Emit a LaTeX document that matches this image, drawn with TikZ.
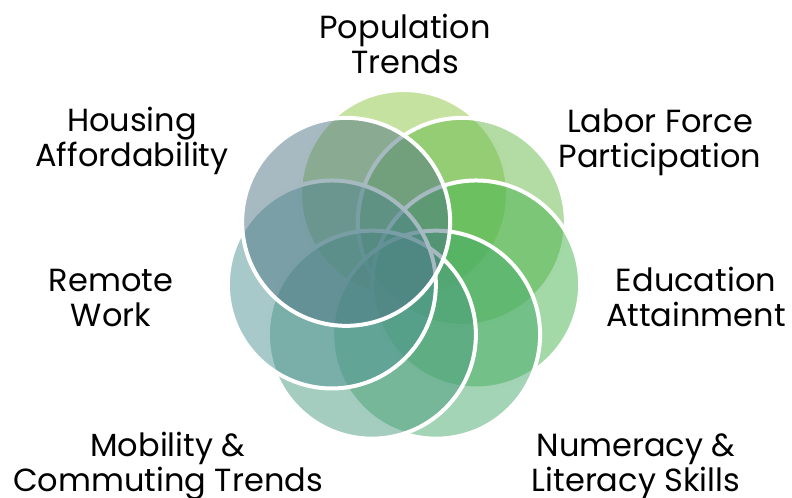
\documentclass[tikz,border=0pt]{standalone}
\usepackage{fontspec}
\setmainfont{Poppins}
\definecolor{popc}{HTML}{8DC541}
\definecolor{labc}{HTML}{65B949}
\definecolor{educ}{HTML}{47B34D}
\definecolor{numc}{HTML}{45A96B}
\definecolor{mobc}{HTML}{4B9B7F}
\definecolor{remc}{HTML}{4F9393}
\definecolor{houc}{HTML}{4F7585}
\begin{document}
\begin{tikzpicture}[x=0.75pt,y=-0.75pt,
  circ/.style={circle, minimum size=156pt, inner sep=0pt, outer sep=0pt,
    fill=#1, fill opacity=0.5, draw=white, draw opacity=1, line width=3pt},
  lbl/.style={align=center, anchor=base, inner sep=0pt, text=black,
    font=\fontsize{24}{26.25}\selectfont}]
\useasboundingbox (0,0) rectangle (792,498);
\node[circ=popc] (c1) at (404,194) {};
\node[circ=labc] (c2) at (461.86,221.86) {};
\node[circ=educ] (c3) at (476.14,284.47) {};
\node[circ=numc] (c4) at (436.11,334.67) {};
\node[circ=mobc] (c5) at (371.89,334.67) {};
\node[circ=remc] (c6) at (331.86,284.47) {};
\node[circ=houc] (c7) at (346.14,221.86) {};
\node[lbl] (t1) at (405,74) {Population\\Trends};
\node[lbl] (t2) at (660,168) {Labor Force\\Participation};
\node[lbl] (t3) at (696,327) {Education\\Attainment};
\node[lbl] (t4) at (636,491) {Numeracy \&\\Literacy Skills};
\node[lbl] (t5) at (168,491) {Mobility \&\\Commuting Trends};
\node[lbl] (t6) at (111,327) {Remote\\Work};
\node[lbl] (t7) at (132,167) {Housing\\Affordability};
\end{tikzpicture}
\end{document}
